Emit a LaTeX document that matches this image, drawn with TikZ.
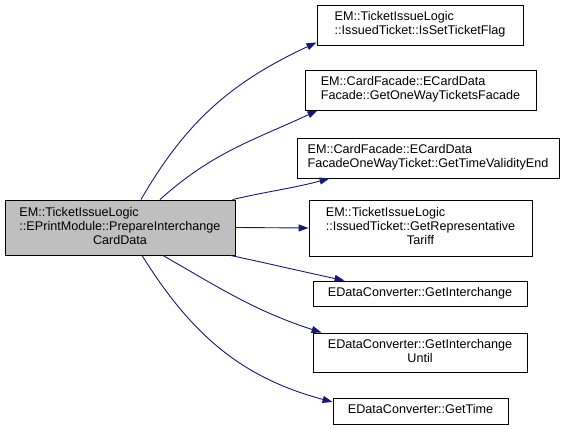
\documentclass[tikz,border=0pt]{standalone}
\usepackage{fontspec}
\setmainfont{Liberation Sans}
\usetikzlibrary{arrows.meta}

\definecolor{edgeblue}{HTML}{191970}
\newcommand{\lastline}[1]{\multicolumn{1}{@{}c@{}}{#1}}
\newcommand{\fnlabel}[1]{\begin{tabular}{@{}l@{}}#1\end{tabular}}

\begin{document}
\begin{tikzpicture}[x=1pt, y=-1pt,
	every node/.style={font=\fontsize{12.6}{14}\selectfont},
	fn/.style={draw=black, fill=white, line width=0.9pt, inner sep=0pt},
	call/.style={draw=edgeblue, line width=0.9pt, -{Triangle[length=10pt, width=7pt]}}]
	\useasboundingbox (0,0) rectangle (564,430);
	% caller
	\node[fn, fill=black!25, minimum width=230pt, minimum height=55pt] (main) at (120,227.5)
		{\fnlabel{EM::TicketIssueLogic\\::EPrintModule::PrepareInterchange\\\lastline{CardData}}};
	% callees
	\node[fn, minimum width=206pt, minimum height=40pt] (flag) at (420,25)
		{\fnlabel{EM::TicketIssueLogic\\\lastline{::IssuedTicket::IsSetTicketFlag}}};
	\node[fn, minimum width=231pt, minimum height=40pt] (oneway) at (420.5,90)
		{\fnlabel{EM::CardFacade::ECardData\\\lastline{Facade::GetOneWayTicketsFacade}}};
	\node[fn, minimum width=262pt, minimum height=40pt] (validity) at (428,158)
		{\fnlabel{EM::CardFacade::ECardData\\\lastline{FacadeOneWayTicket::GetTimeValidityEnd}}};
	\node[fn, minimum width=223pt, minimum height=56pt] (tariff) at (420.5,228)
		{\fnlabel{EM::TicketIssueLogic\\::IssuedTicket::GetRepresentative\\\lastline{Tariff}}};
	\node[fn, minimum width=214pt, minimum height=25pt] (inter) at (420,293.5)
		{\fnlabel{\lastline{EDataConverter::GetInterchange}}};
	\node[fn, minimum width=214pt, minimum height=39pt] (until) at (420,352.5)
		{\fnlabel{EDataConverter::GetInterchange\\\lastline{Until}}};
	\node[fn, minimum width=175pt, minimum height=26pt] (time) at (420.5,411)
		{\fnlabel{\lastline{EDataConverter::GetTime}}};
	% calls
	\draw[call] ([xshift=21pt]main.north) to[out=60, in=205] ([yshift=3pt]flag.south west);
	\draw[call] ([xshift=40pt]main.north) to[out=42, in=205] ([xshift=13pt]oneway.south west);
	\draw[call] ([xshift=-3pt]main.north east) to[out=13, in=195] ([xshift=33pt]validity.south west);
	\draw[call] (main.east) -- (tariff.west);
	\draw[call] ([xshift=-5pt]main.south east) to[out=-12, in=168] ([xshift=32pt]inter.north west);
	\draw[call] ([xshift=43pt]main.south) to[out=-30, in=162] ([xshift=9pt]until.north west);
	\draw[call] ([xshift=22pt]main.south) to[out=-58, in=165] ([yshift=9pt]time.west);
\end{tikzpicture}
\end{document}
